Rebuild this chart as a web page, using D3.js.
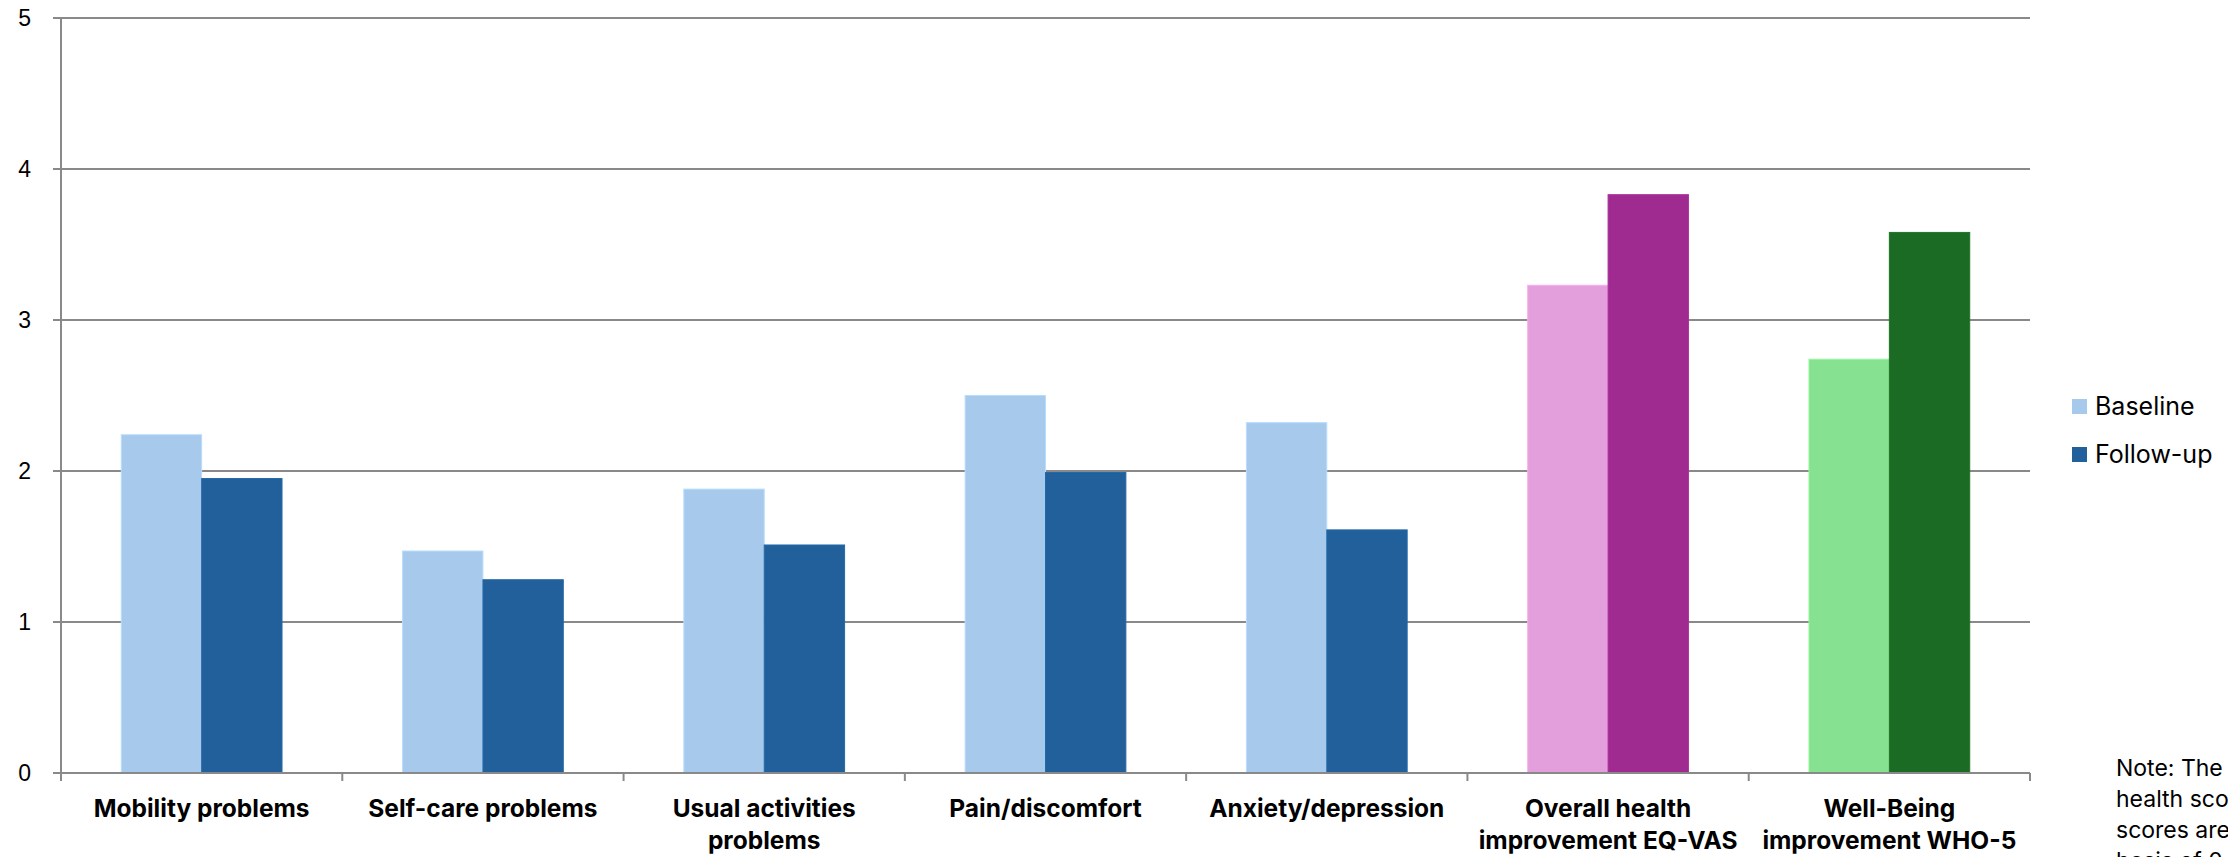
<!DOCTYPE html>
<html>
<head>
<meta charset="utf-8">
<script src="https://cdn.jsdelivr.net/npm/d3@7"></script>
<style>
  html, body { margin: 0; padding: 0; background: #ffffff; overflow: hidden; }
  svg { display: block; }
</style>
</head>
<body>
<svg id="chart" width="2228" height="857"></svg>
<script>
// Categories (multi-line labels are given as arrays of lines)
const categories = [
  ["Mobility problems"],
  ["Self-care problems"],
  ["Usual activities", "problems"],
  ["Pain/discomfort"],
  ["Anxiety/depression"],
  ["Overall health", "improvement EQ-VAS"],
  ["Well-Being", "improvement WHO-5"]
];
const seriesNames = ["Baseline", "Follow-up"];
const baseline = [2.24, 1.47, 1.88, 2.50, 2.32, 3.23, 2.74];
const followUp = [1.95, 1.28, 1.51, 1.99, 1.61, 3.83, 3.58];
const yTicks = [0, 1, 2, 3, 4, 5];
// per-category fill pair: [baseline, follow-up]
const barColors = [
  ["#A7CAEC", "#21609B"],
  ["#A7CAEC", "#21609B"],
  ["#A7CAEC", "#21609B"],
  ["#A7CAEC", "#21609B"],
  ["#A7CAEC", "#21609B"],
  ["#E39EDC", "#9F2B91"],
  ["#86E290", "#1B6B24"]
];
const legendColors = ["#A7CAEC", "#21609B"];
const noteLines = [
  "Note: The overall",
  "health scores and well-being",
  "scores are shown on a",
  "basis of 0\u20135"
];

const svg = d3.select("#chart");
const plot = { left: 61, right: 2030, top: 18, bottom: 773 };
const gridColor = "#898989";

const x0 = d3.scaleBand()
  .domain(d3.range(categories.length))
  .range([plot.left, plot.right])
  .paddingInner(0).paddingOuter(0);

// gap between clusters is 150% of a single bar width
const barW = x0.bandwidth() / 3.5;
const x1 = d3.scaleBand()
  .domain([0, 1])
  .range([0, barW * 2])
  .padding(0);

const y = d3.scaleLinear().domain([0, 5]).range([plot.bottom, plot.top]);

// horizontal gridlines (with short tick stub left of the axis)
svg.append("g").selectAll("line")
  .data(yTicks)
  .join("line")
  .attr("x1", plot.left - 8)
  .attr("x2", plot.right)
  .attr("y1", d => y(d))
  .attr("y2", d => y(d))
  .attr("stroke", gridColor)
  .attr("stroke-width", 2);

// y tick labels
svg.append("g").selectAll("text")
  .data(yTicks)
  .join("text")
  .attr("x", 31)
  .attr("y", d => y(d))
  .attr("dy", "0.36em")
  .attr("text-anchor", "end")
  .attr("font-family", "Liberation Sans, Arial, sans-serif")
  .attr("font-size", 23)
  .attr("fill", "#000")
  .text(d => d);

// bars
const rows = categories.map((c, i) => ({ i, vals: [baseline[i], followUp[i]] }));
const groups = svg.append("g").selectAll("g")
  .data(rows)
  .join("g")
  .attr("transform", d => `translate(${x0(d.i) + (x0.bandwidth() - barW * 2) / 2},0)`);

groups.selectAll("rect")
  .data(d => d.vals.map((v, k) => ({ v, k, i: d.i })))
  .join("rect")
  .attr("x", d => x1(d.k))
  .attr("width", x1.bandwidth())
  .attr("y", d => y(d.v))
  .attr("height", d => y(0) - y(d.v))
  .attr("fill", d => barColors[d.i][d.k])
  .attr("stroke", d => d3.color(barColors[d.i][d.k]).brighter(0.25))
  .attr("stroke-width", 1);

// y axis line
svg.append("line")
  .attr("x1", plot.left).attr("x2", plot.left)
  .attr("y1", plot.top).attr("y2", plot.bottom)
  .attr("stroke", gridColor).attr("stroke-width", 2);

// x axis baseline and category boundary ticks
svg.append("line")
  .attr("x1", plot.left - 8).attr("x2", plot.right)
  .attr("y1", y(0)).attr("y2", y(0))
  .attr("stroke", gridColor).attr("stroke-width", 2);

const boundaries = d3.range(categories.length + 1).map(i => plot.left + i * x0.bandwidth());
svg.append("g").selectAll("line")
  .data(boundaries)
  .join("line")
  .attr("x1", d => d).attr("x2", d => d)
  .attr("y1", y(0)).attr("y2", y(0) + 8)
  .attr("stroke", gridColor).attr("stroke-width", 2);

// category labels
const labels = svg.append("g").selectAll("text")
  .data(categories)
  .join("text")
  .attr("text-anchor", "middle")
  .attr("font-family", "Inter, Open Sans, sans-serif")
  .attr("font-weight", 700)
  .attr("font-size", 24.5)
  .attr("fill", "#000");
labels.each(function (lines, i) {
  const t = d3.select(this);
  lines.forEach((ln, k) => {
    t.append("tspan")
      .attr("x", x0(i) + x0.bandwidth() / 2)
      .attr("y", 817 + k * 32)
      .text(ln);
  });
});

// legend
const legend = svg.append("g").selectAll("g")
  .data(seriesNames)
  .join("g")
  .attr("transform", (d, i) => `translate(2072,${399 + i * 48})`);
legend.append("rect")
  .attr("width", 15).attr("height", 15)
  .attr("fill", (d, i) => legendColors[i]);
legend.append("text")
  .attr("x", 23)
  .attr("y", 16)
  .attr("font-family", "Inter, Open Sans, sans-serif")
  .attr("font-size", 25)
  .attr("fill", "#000")
  .text(d => d);

// note (runs off the right edge)
svg.append("g").selectAll("text")
  .data(noteLines)
  .join("text")
  .attr("x", 2116)
  .attr("y", (d, i) => 776 + i * 31)
  .attr("font-family", "Inter, Open Sans, sans-serif")
  .attr("font-size", 23)
  .attr("fill", "#000")
  .text(d => d);
</script>
</body>
</html>
